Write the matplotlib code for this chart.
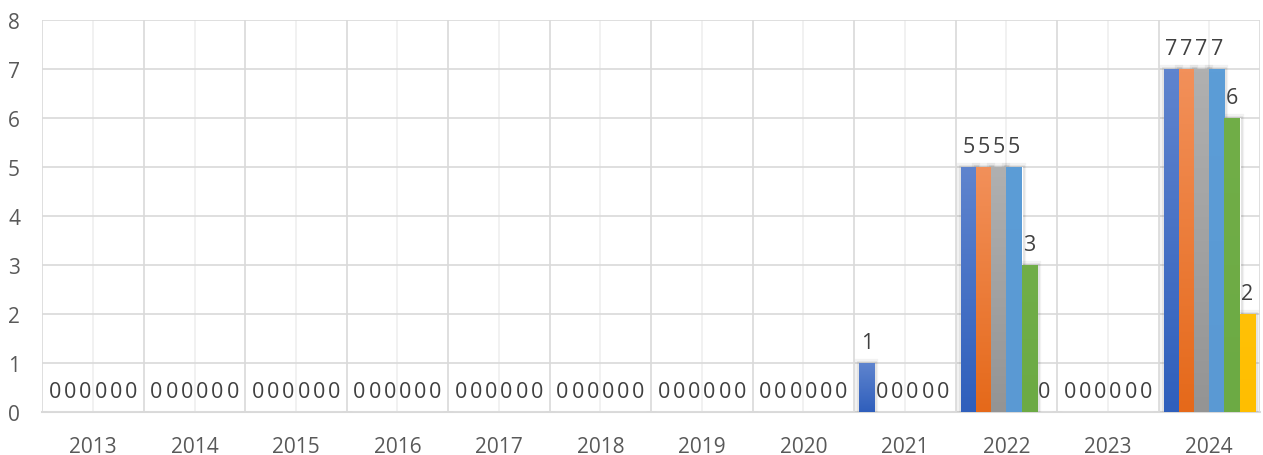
import numpy as np
import matplotlib
matplotlib.use("Agg")
import matplotlib.pyplot as plt
import matplotlib.patheffects as pe
from matplotlib.colors import LinearSegmentedColormap

years = ["2013", "2014", "2015", "2016", "2017", "2018",
         "2019", "2020", "2021", "2022", "2023", "2024"]
series1 = [0, 0, 0, 0, 0, 0, 0, 0, 1, 5, 0, 7]
series2 = [0, 0, 0, 0, 0, 0, 0, 0, 0, 5, 0, 7]
series3 = [0, 0, 0, 0, 0, 0, 0, 0, 0, 5, 0, 7]
series4 = [0, 0, 0, 0, 0, 0, 0, 0, 0, 5, 0, 7]
series5 = [0, 0, 0, 0, 0, 0, 0, 0, 0, 3, 0, 6]
series6 = [0, 0, 0, 0, 0, 0, 0, 0, 0, 0, 0, 2]
all_series = [series1, series2, series3, series4, series5, series6]

# (top colour, bottom colour) per series
grad_colors = [("#5F84CE", "#2F5FBC"),
               ("#F2905A", "#E5691A"),
               ("#B0B0B0", "#949494"),
               ("#5C9DD7", "#5A99D3"),
               ("#71AE48", "#6CAA44"),
               ("#FFC107", "#FFBE00")]

plt.rcParams['font.family'] = ['Open Sans', 'DejaVu Sans']
text_color = "#595959"

fig = plt.figure(figsize=(12.63, 4.56), dpi=100)
ax = fig.add_axes([42.3 / 1263, 43 / 456, (1260 - 42.3) / 1263, (413 - 21.3) / 456])

x = np.arange(len(years))
n = len(all_series)
pitch = 0.15
ax.set_xlim(-0.5, len(years) - 0.5)
ax.set_ylim(0, 8)

for i, vals in enumerate(all_series):
    offs = (i - (n - 1) / 2) * pitch
    top, bot = grad_colors[i]
    bars = ax.bar(x + offs, vals, width=pitch, color=top, edgecolor="white",
                  linewidth=0.8, zorder=3)
    cmap = LinearSegmentedColormap.from_list(f"g{i}", [bot, top])
    for b, v in zip(bars, vals):
        if v > 0:
            b.set_path_effects([pe.Stroke(linewidth=6, foreground="black", alpha=0.05),
                                pe.Stroke(linewidth=3.5, foreground="black", alpha=0.06),
                                pe.Normal()])
            x0 = b.get_x()
            w = b.get_width()
            grad = np.linspace(0, 1, 100).reshape(-1, 1)
            im = ax.imshow(grad, cmap=cmap, origin="lower", aspect="auto",
                           extent=(x0, x0 + w, 0, b.get_height()), zorder=3.5,
                           interpolation="bilinear")
            im.set_clip_path(b)
    ax.bar_label(bars, labels=[str(v) for v in vals], padding=7.5,
                 fontsize=15.5, color="#404040", zorder=5)

ax.set_xlim(-0.5, len(years) - 0.5)
ax.set_ylim(0, 8)

ax.set_xticks(x)
ax.set_xticklabels(years)
ax.set_xticks(np.arange(-0.5, len(years), 1), minor=True)
ax.set_yticks(np.arange(0, 9, 1))
ax.tick_params(axis="both", which="both", length=0)
ax.tick_params(axis="x", pad=17, labelsize=15, labelcolor=text_color)
ax.tick_params(axis="y", pad=16, labelsize=15, labelcolor=text_color)

ax.grid(axis="y", which="major", color="#d9d9d9", linewidth=1.2, zorder=0)
ax.grid(axis="x", which="minor", color="#d9d9d9", linewidth=1.2, zorder=0)
ax.grid(axis="x", which="major", color="#efefef", linewidth=1.2, zorder=0)
ax.set_axisbelow(True)

for s in ["top", "right", "left"]:
    ax.spines[s].set_visible(False)
ax.spines["bottom"].set_color("#d9d9d9")
ax.spines["bottom"].set_linewidth(1.5)

fig.savefig("out.png", dpi=100)
